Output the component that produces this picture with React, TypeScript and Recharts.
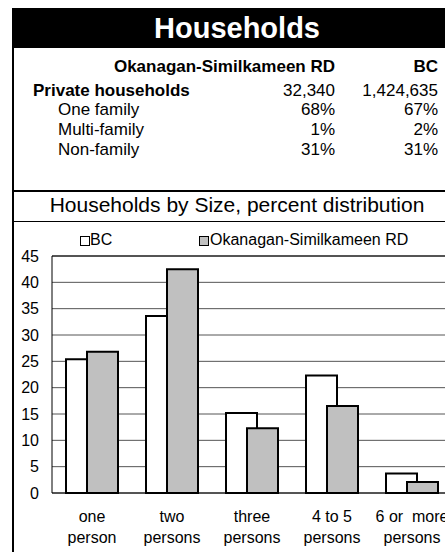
import React from "react";
import { BarChart, Bar, XAxis, YAxis, CartesianGrid, ReferenceLine } from "recharts";

const categories = ["one person", "two persons", "three persons", "4 to 5 persons", "6 or more persons"];
const categoryLines = [
  ["one", "person"],
  ["two", "persons"],
  ["three", "persons"],
  ["4 to 5", "persons"],
  ["6 or  more", "persons"],
];
const bcValues = [25.4, 33.6, 15.2, 22.3, 3.7];
const osValues = [26.8, 42.5, 12.3, 16.5, 2.1];
const yTicks = [0, 5, 10, 15, 20, 25, 30, 35, 40, 45];

const seriesNames = ["BC", "Okanagan-Similkameen RD"];

const tableColumns = ["Okanagan-Similkameen RD", "BC"];
const tableLabels = ["Private households", "One family", "Multi-family", "Non-family"];
const tableOs = ["32,340", "68%", "1%", "31%"];
const tableBc = ["1,424,635", "67%", "2%", "31%"];

const data = categories.map((name, i) => ({ name, bc: bcValues[i], os: osValues[i] }));

const FONT = '"Liberation Sans", Arial, Helvetica, sans-serif';

const CategoryTick = (props: any) => {
  const { x, y, payload } = props;
  const lines = categoryLines[payload.index] || [payload.value];
  return (
    <g>
      {lines.map((t: string, k: number) => (
        <text
          key={k}
          x={x}
          y={y + 29 + k * 21}
          textAnchor="middle"
          fontSize={16}
          fontFamily={FONT}
          fill="#000"
          style={{ whiteSpace: "pre" }}
        >
          {t}
        </text>
      ))}
    </g>
  );
};

const rowTops = [57, 81, 100, 120, 140];

export default function App() {
  return (
    <div
      style={{
        position: "absolute",
        left: 0,
        top: 0,
        width: 445,
        height: 552,
        overflow: "hidden",
        background: "#fff",
        fontFamily: FONT,
        color: "#000",
      }}
    >
      {/* title bar */}
      <div
        style={{
          position: "absolute",
          left: 12,
          top: 8,
          width: 450,
          height: 40,
          background: "#000",
          color: "#fff",
          fontWeight: "bold",
          fontSize: 29,
          lineHeight: "40px",
          textAlign: "center",
        }}
      >
        Households
      </div>
      <div style={{ position: "absolute", left: 12, top: 48, width: 2, height: 504, background: "#000" }} />

      {/* table */}
      <div style={{ position: "absolute", left: 0, top: rowTops[0], width: 335, textAlign: "right", fontSize: 17, fontWeight: "bold", lineHeight: "20px" }}>
        {tableColumns[0]}
      </div>
      <div style={{ position: "absolute", left: 0, top: rowTops[0], width: 438, textAlign: "right", fontSize: 17, fontWeight: "bold", lineHeight: "20px" }}>
        {tableColumns[1]}
      </div>
      {tableLabels.map((label, i) => (
        <React.Fragment key={label}>
          <div
            style={{
              position: "absolute",
              left: i === 0 ? 33 : 58,
              top: rowTops[i + 1],
              fontSize: 17,
              fontWeight: i === 0 ? "bold" : "normal",
              lineHeight: "20px",
              whiteSpace: "nowrap",
            }}
          >
            {label}
          </div>
          <div style={{ position: "absolute", left: 0, top: rowTops[i + 1], width: 335, textAlign: "right", fontSize: 17, lineHeight: "20px" }}>
            {tableOs[i]}
          </div>
          <div style={{ position: "absolute", left: 0, top: rowTops[i + 1], width: 438, textAlign: "right", fontSize: 17, lineHeight: "20px" }}>
            {tableBc[i]}
          </div>
        </React.Fragment>
      ))}

      {/* subtitle */}
      <div style={{ position: "absolute", left: 12, top: 190, width: 450, height: 2, background: "#000" }} />
      <div
        style={{
          position: "absolute",
          left: 12,
          top: 193,
          width: 450,
          textAlign: "center",
          fontSize: 21,
          lineHeight: "24px",
          whiteSpace: "nowrap",
        }}
      >
        Households by Size, percent distribution
      </div>
      <div style={{ position: "absolute", left: 12, top: 221, width: 450, height: 1, background: "#000" }} />

      {/* legend */}
      <div style={{ position: "absolute", left: 80, top: 236, width: 8, height: 8, border: "1px solid #000", background: "#fff" }} />
      <div style={{ position: "absolute", left: 90, top: 231, fontSize: 16, lineHeight: "18px" }}>{seriesNames[0]}</div>
      <div style={{ position: "absolute", left: 199, top: 236, width: 8, height: 8, border: "1px solid #000", background: "#c0c0c0" }} />
      <div style={{ position: "absolute", left: 210, top: 231, fontSize: 16, lineHeight: "18px", whiteSpace: "nowrap" }}>{seriesNames[1]}</div>

      {/* chart */}
      <div style={{ position: "absolute", left: 0, top: 224 }}>
        <BarChart
          width={460}
          height={328}
          data={data}
          margin={{ top: 32, right: 8, bottom: 0, left: 0 }}
          barGap={-10}
        >
          <CartesianGrid vertical={false} stroke="#555" strokeWidth={1} />
          <XAxis
            dataKey="name"
            interval={0}
            tickLine={false}
            tickSize={0}
            tickMargin={0}
            height={59}
            axisLine={{ stroke: "#000" }}
            tick={<CategoryTick />}
          />
          <YAxis
            type="number"
            domain={[0, 45]}
            ticks={yTicks}
            interval={0}
            width={52}
            tickLine={false}
            tickSize={6}
            tickMargin={7}
            axisLine={{ stroke: "#000" }}
            tick={{ fontSize: 16, fill: "#000", fontFamily: FONT }}
          />
          <ReferenceLine y={45} stroke="#000" />
          <Bar dataKey="bc" name={seriesNames[0]} fill="#fff" stroke="#000" strokeWidth={2} barSize={31} isAnimationActive={false} />
          <Bar dataKey="os" name={seriesNames[1]} fill="#c0c0c0" stroke="#000" strokeWidth={2} barSize={31} isAnimationActive={false} />
        </BarChart>
      </div>
    </div>
  );
}
